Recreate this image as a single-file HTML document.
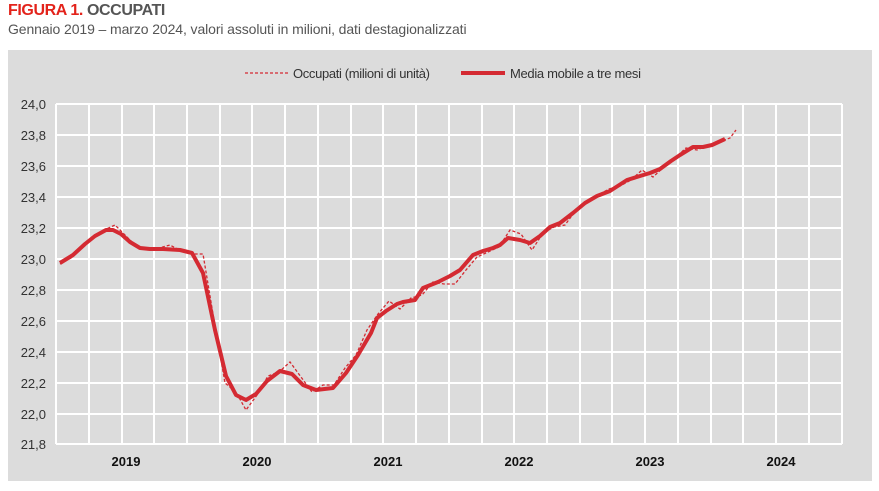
<!DOCTYPE html>
<html><head><meta charset="utf-8"><style>
body{margin:0;width:879px;height:491px;background:#fff;overflow:hidden;font-family:"Liberation Sans",sans-serif}
.t{position:absolute;left:8px;top:2px;font-size:16px;font-weight:bold;color:#555;letter-spacing:-0.4px}
.t span{color:#e3231b}
.s{position:absolute;left:8px;top:21px;font-size:14px;color:#555;letter-spacing:-0.1px}
</style></head><body>
<div class="t"><span>FIGURA 1.</span> OCCUPATI</div>
<div class="s">Gennaio 2019 – marzo 2024, valori assoluti in milioni, dati destagionalizzati</div>
<svg style="position:absolute;left:0;top:0" width="879" height="491">
<rect x="8" y="50" width="864" height="431" fill="#dcdcdc"/>
<g stroke="#fff" stroke-width="2">
<line x1="56" y1="104" x2="842" y2="104"/><line x1="56" y1="135" x2="842" y2="135"/><line x1="56" y1="166" x2="842" y2="166"/><line x1="56" y1="197" x2="842" y2="197"/><line x1="56" y1="228" x2="842" y2="228"/><line x1="56" y1="259" x2="842" y2="259"/><line x1="56" y1="290" x2="842" y2="290"/><line x1="56" y1="321" x2="842" y2="321"/><line x1="56" y1="352" x2="842" y2="352"/><line x1="56" y1="383" x2="842" y2="383"/><line x1="56" y1="414" x2="842" y2="414"/><line x1="56" y1="444" x2="842" y2="444"/>
<line x1="56" y1="104" x2="56" y2="444"/>
<line x1="89" y1="104" x2="89" y2="444"/><line x1="122" y1="104" x2="122" y2="444"/><line x1="154" y1="104" x2="154" y2="444"/><line x1="187" y1="104" x2="187" y2="444"/><line x1="220" y1="104" x2="220" y2="444"/><line x1="252" y1="104" x2="252" y2="444"/><line x1="285" y1="104" x2="285" y2="444"/><line x1="318" y1="104" x2="318" y2="444"/><line x1="351" y1="104" x2="351" y2="444"/><line x1="383" y1="104" x2="383" y2="444"/><line x1="416" y1="104" x2="416" y2="444"/><line x1="449" y1="104" x2="449" y2="444"/><line x1="482" y1="104" x2="482" y2="444"/><line x1="514" y1="104" x2="514" y2="444"/><line x1="547" y1="104" x2="547" y2="444"/><line x1="580" y1="104" x2="580" y2="444"/><line x1="612" y1="104" x2="612" y2="444"/><line x1="645" y1="104" x2="645" y2="444"/><line x1="678" y1="104" x2="678" y2="444"/><line x1="711" y1="104" x2="711" y2="444"/><line x1="743" y1="104" x2="743" y2="444"/><line x1="776" y1="104" x2="776" y2="444"/><line x1="809" y1="104" x2="809" y2="444"/><line x1="842" y1="104" x2="842" y2="444"/>
</g>
<g font-size="13" fill="#333" text-anchor="end">
<text x="46" y="109">24,0</text><text x="46" y="140">23,8</text><text x="46" y="171">23,6</text><text x="46" y="202">23,4</text><text x="46" y="233">23,2</text><text x="46" y="264">23,0</text><text x="46" y="295">22,8</text><text x="46" y="326">22,6</text><text x="46" y="357">22,4</text><text x="46" y="388">22,2</text><text x="46" y="419">22,0</text><text x="46" y="449">21,8</text>
</g>
<g font-size="13" font-weight="bold" fill="#111" text-anchor="middle">
<text x="126" y="466">2019</text><text x="257" y="466">2020</text><text x="388" y="466">2021</text><text x="519" y="466">2022</text><text x="650" y="466">2023</text><text x="781" y="466">2024</text>
</g>
<line x1="245" y1="73" x2="289" y2="73" stroke="#d42a32" stroke-width="1.2" stroke-dasharray="3,2"/>
<text x="293" y="78" font-size="13" fill="#333" textLength="137">Occupati (milioni di unità)</text>
<line x1="461" y1="73" x2="505" y2="73" stroke="#d42a32" stroke-width="4"/>
<text x="510" y="78" font-size="13" fill="#333" textLength="131">Media mobile a tre mesi</text>
<polyline fill="none" stroke="#d42a32" stroke-width="1.3" stroke-dasharray="3,2" points="60,264 71,258 82,246 93,236 104,230 115,225 126,236 137,247 148,250 159,248 170,245 181,251 192,254 203,254 214,320 225,383 236,392 246,410 257,395 268,376 279,372 290,362 301,377 312,392 323,385 334,385 345,368 356,355 367,330 378,314 389,301 400,309 411,298 422,295 433,282 444,284 455,284 466,270 477,257 488,252 499,247 510,230 521,234 532,250 543,233 554,227 565,225 576,210 587,202 598,195 609,189 620,186 631,180 642,170 653,177 664,167 675,158 686,148 697,150 708,145 719,142 730,138 736,130"/>
<polyline fill="none" stroke="#d42a32" stroke-width="4" stroke-linejoin="round" points="60,263 73,255 85,244 95,236 106,230 113,230 121,234 130,242 140,248 150,249 163,249 180,250 192,253 203,273 215,330 226,376 236,395 246,400 256,394 267,381 280,371 292,374 303,385 316,390 333,388 346,373 358,355 371,333 377,318 386,311 397,304 403,302 415,300 423,288 438,282 450,276 460,270 473,255 483,251 493,248 500,245 508,238 520,240 530,243 540,236 550,227 560,223 573,213 585,203 597,196 610,191 627,180 640,176 650,173 660,169 671,161 680,155 693,147 703,147 712,145 725,139"/>
</svg>
</body></html>
